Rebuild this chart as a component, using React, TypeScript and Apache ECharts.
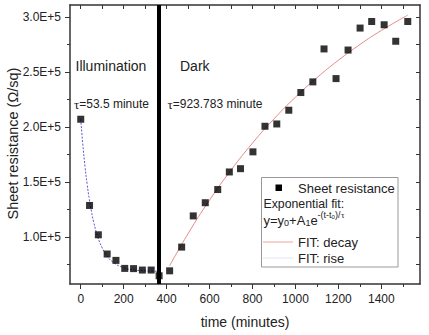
import React, { useEffect, useRef } from "react";
import * as echarts from "echarts";

const decayTime = [0, 41, 82, 123, 164, 205, 246, 287, 328, 365];
const decayValue = [207000, 128500, 101800, 84300, 78500, 71200, 71000, 69700, 69700, 64500];
const riseTime = [414, 470, 524, 580, 638, 692, 744, 802, 858, 913, 969, 1025, 1081, 1133, 1189, 1245, 1301, 1355, 1413, 1467, 1523];
const riseValue = [69000, 90600, 119000, 131000, 143000, 159000, 162000, 177300, 200600, 202700, 215200, 231300, 241000, 271000, 244000, 270000, 290000, 296000, 293000, 278000, 296000];

const decayFitTime = [0, 10, 20, 30, 40, 50, 60, 80, 100, 120, 150, 200, 250, 300, 365];
const decayFitValue = [207000, 183300, 163800, 147600, 134100, 122900, 113600, 99500, 89900, 83200, 76900, 71800, 69800, 69000, 68600];
const riseFitTime = [414, 500, 600, 700, 800, 900, 1000, 1100, 1200, 1300, 1400, 1523];
const riseFitValue = [73600, 102900, 133400, 160700, 185300, 207300, 227100, 244800, 260700, 275000, 287800, 301800];

const switchTime = 363;

const xMajorTicks = [0, 200, 400, 600, 800, 1000, 1200, 1400];
const xMinorTicks = [100, 300, 500, 700, 900, 1100, 1300, 1500];
const yMajorTicks = [100000, 150000, 200000, 250000, 300000];
const yMinorTicks = [75000, 125000, 175000, 225000, 275000];

const FONT = "'Liberation Sans', Arial, sans-serif";
const SERIF = "'Liberation Serif', 'Times New Roman', serif";
const AX = "#333";

export default function App() {
  const ref = useRef<HTMLDivElement>(null);
  useEffect(() => {
    if (!ref.current) return;
    const chart = echarts.init(ref.current, null, { renderer: "svg" });
    const xAll = [...xMajorTicks, ...xMinorTicks].sort((a, b) => a - b);
    const yAll = [...yMajorTicks, ...yMinorTicks].sort((a, b) => a - b);
    const xBase = { type: "value", min: -50, max: 1580, splitLine: { show: false } };
    const yBase = { type: "value", min: 57000, max: 311000, splitLine: { show: false } };
    const pair = (xs: number[], ys: number[]) => xs.map((x, i) => [x, ys[i]]);
    const txt = (x: number, y: number, text: string, size: number, extra: any = {}) => ({
      type: "text",
      x,
      y,
      z: 11,
      style: { text, fontSize: size, fontFamily: FONT, fill: "#222", verticalAlign: "middle", ...extra },
    });
    const line = (show: boolean) => ({ show, onZero: false, lineStyle: { color: AX, width: 1.5 } });
    chart.setOption({
      animation: false,
      backgroundColor: "#fff",
      textStyle: { fontFamily: FONT },
      grid: { left: 70, right: 9, top: 5, bottom: 51, containLabel: false },
      xAxis: [
        {
          ...xBase,
          position: "bottom",
          axisLine: line(true),
          axisTick: { show: true, customValues: xMajorTicks, length: 5, inside: false, lineStyle: { color: AX, width: 1 } },
          axisLabel: {
            show: true,
            customValues: xMajorTicks,
            margin: 9,
            fontSize: 12,
            color: "#222",
            fontFamily: FONT,
            formatter: (v: number) => String(v),
          },
        },
        {
          ...xBase,
          position: "bottom",
          axisLine: line(false),
          axisTick: { show: true, customValues: xMinorTicks, length: 3, inside: false, lineStyle: { color: AX, width: 1 } },
          axisLabel: { show: false },
        },
        {
          ...xBase,
          position: "top",
          axisLine: line(true),
          axisTick: { show: true, customValues: xAll, length: 4, inside: true, lineStyle: { color: AX, width: 1 } },
          axisLabel: { show: false },
        },
      ],
      yAxis: [
        {
          ...yBase,
          position: "left",
          axisLine: line(true),
          axisTick: { show: true, customValues: yMajorTicks, length: 5, inside: false, lineStyle: { color: AX, width: 1 } },
          axisLabel: {
            show: true,
            customValues: yMajorTicks,
            margin: 9,
            fontSize: 12,
            color: "#222",
            fontFamily: FONT,
            formatter: (v: number) => (v / 100000).toFixed(1) + "E+5",
          },
        },
        {
          ...yBase,
          position: "left",
          axisLine: line(false),
          axisTick: { show: true, customValues: yMinorTicks, length: 3, inside: false, lineStyle: { color: AX, width: 1 } },
          axisLabel: { show: false },
        },
        {
          ...yBase,
          position: "right",
          axisLine: line(true),
          axisTick: { show: true, customValues: yAll, length: 4, inside: true, lineStyle: { color: AX, width: 1 } },
          axisLabel: { show: false },
        },
      ],
      series: [
        {
          name: "FIT: decay",
          type: "line",
          data: pair(decayFitTime, decayFitValue),
          smooth: true,
          symbol: "none",
          lineStyle: { color: "#5a5ad0", width: 1, type: [2, 1.5] },
          z: 2,
        },
        {
          name: "FIT: rise",
          type: "line",
          data: pair(riseFitTime, riseFitValue),
          smooth: true,
          symbol: "none",
          lineStyle: { color: "#e58a8a", width: 1 },
          z: 2,
        },
        {
          name: "Sheet resistance",
          type: "scatter",
          data: [...pair(decayTime, decayValue), ...pair(riseTime, riseValue)],
          symbol: "rect",
          symbolSize: 7,
          itemStyle: { color: "#000" },
          z: 4,
          markLine: {
            silent: true,
            symbol: ["none", "none"],
            label: { show: false },
            lineStyle: { color: "#000", width: 4, type: "solid" },
            data: [{ xAxis: switchTime }],
            z: 3,
          },
        },
      ],
      graphic: [
        {
          type: "text",
          x: 12.5,
          y: 143.5,
          rotation: Math.PI / 2,
          style: { text: "Sheet resistance (Ω/sq)", fontSize: 14.5, fontFamily: FONT, fill: "#222", align: "center", verticalAlign: "middle" },
        },
        txt(245, 322, "time (minutes)", 14, { align: "center" }),
        txt(75.5, 66, "Illumination", 14),
        txt(180, 66, "Dark", 14),
        txt(74, 104, "{t|τ}=53.5 minute", 12, { rich: { t: { fontFamily: SERIF, fontSize: 13, fill: "#222" } } }),
        txt(167.5, 104, "{t|τ}=923.783 minute", 12, { rich: { t: { fontFamily: SERIF, fontSize: 13, fill: "#222" } } }),
        {
          type: "rect",
          shape: { x: 261.5, y: 177.5, width: 136.5, height: 89.5 },
          style: { fill: "#fff", stroke: "#999", lineWidth: 1 },
          z: 10,
        },
        {
          type: "rect",
          shape: { x: 275.5, y: 184.5, width: 6.5, height: 6.5 },
          style: { fill: "#000" },
          z: 11,
        },
        txt(298, 188, "Sheet resistance", 13),
        txt(263.5, 203.5, "Exponential fit:", 12.3),
        txt(263.5, 220, "y=y", 13),
        txt(284.1, 223, "0", 9),
        txt(289.1, 220, "+A", 13),
        txt(305.4, 223, "1", 9),
        txt(310.4, 220, "e", 13),
        txt(317.6, 215, "-(t-t", 9),
        txt(331.6, 217, "0", 6),
        txt(335, 215, ")/", 9),
        { ...txt(341, 215, "τ", 9), style: { text: "τ", fontSize: 9, fontFamily: SERIF, fill: "#222", verticalAlign: "middle" } },
        { type: "line", z: 11, shape: { x1: 263, y1: 242, x2: 293, y2: 242 }, style: { stroke: "#f0a0a0", lineWidth: 1 } },
        txt(298, 242, "FIT: decay", 13),
        { type: "line", z: 11, shape: { x1: 263, y1: 258, x2: 293, y2: 258 }, style: { stroke: "#e4e4f0", lineWidth: 1 } },
        txt(298, 258, "FIT: rise", 13),
      ],
    });
    return () => chart.dispose();
  }, []);
  return (
    <div
      ref={ref}
      style={{ position: "fixed", left: 0, top: 0, width: 429, height: 335, background: "#fff" }}
    />
  );
}
